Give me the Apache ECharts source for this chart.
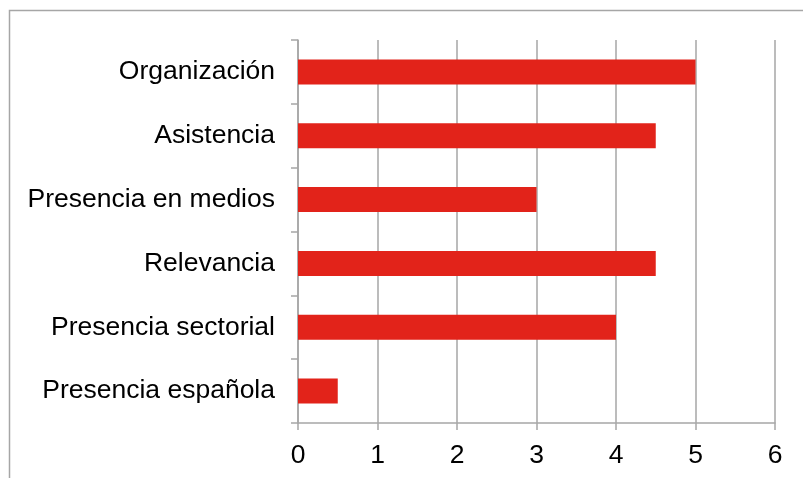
<!DOCTYPE html>
<html>
<head>
<meta charset="utf-8">
<script src="https://cdn.jsdelivr.net/npm/echarts@6/dist/echarts.min.js"></script>
<style>
html,body{margin:0;padding:0;background:#fff;}
#c{width:803px;height:478px;}
</style>
</head>
<body>
<div id="c"></div>
<script>
const categories = ["Organización","Asistencia","Presencia en medios","Relevancia","Presencia sectorial","Presencia española"];
const values = [5, 4.5, 3, 4.5, 4, 0.5];
const xTicks = [0,1,2,3,4,5,6];

const chart = echarts.init(document.getElementById('c'), null, {renderer:'canvas'});
const gray = '#a6a6a6';
chart.setOption({
  animation:false,
  backgroundColor:'#fff',
  graphic:[{type:'rect', shape:{x:9.5,y:10.5,width:900,height:700}, style:{fill:'none',stroke:gray,lineWidth:1.5}, silent:true}],
  grid:{left:298,right:28,top:40,bottom:55,containLabel:false},
  xAxis:{
    type:'value', min:xTicks[0], max:xTicks[xTicks.length-1], interval:1,
    axisLine:{show:true,lineStyle:{color:gray,width:1.5}},
    axisTick:{show:true,length:7,lineStyle:{color:gray,width:1.5}},
    axisLabel:{color:'#000',fontSize:26.5,fontFamily:'Liberation Sans, Arial, sans-serif',margin:19,formatter:v=>String(v)},
    splitLine:{show:true,lineStyle:{color:gray,width:1.5}}
  },
  yAxis:{
    type:'category', data:categories, inverse:true,
    axisLine:{show:true,lineStyle:{color:gray,width:1.5}},
    axisTick:{show:true,length:7,lineStyle:{color:gray,width:1.5}},
    axisLabel:{color:'#000',fontSize:26.5,fontFamily:'Liberation Sans, Arial, sans-serif',margin:23},
    splitLine:{show:false}
  },
  series:[{type:'bar', data:values, barWidth:25, itemStyle:{color:'#e2231a'}}]
});
</script>
</body>
</html>
